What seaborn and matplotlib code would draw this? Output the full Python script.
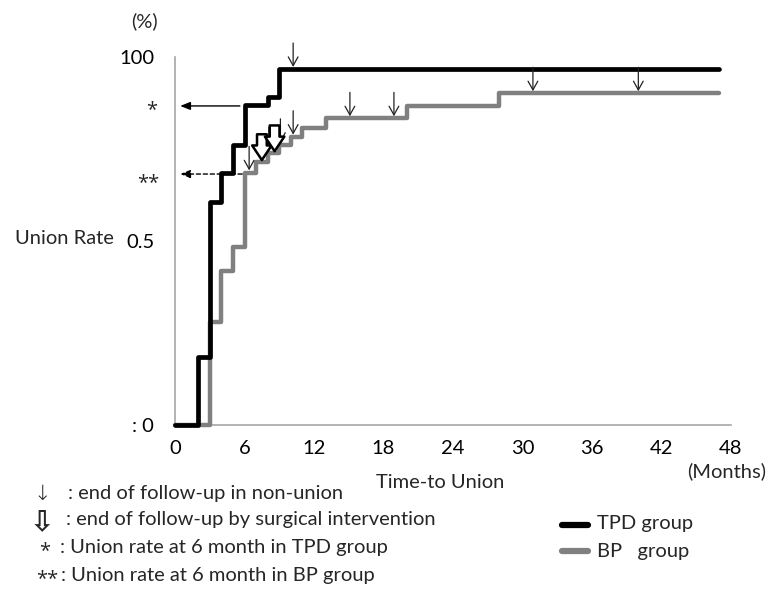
import numpy as np
import pandas as pd
import matplotlib
matplotlib.use('Agg')
import matplotlib.pyplot as plt
from matplotlib.lines import Line2D
import seaborn as sns

# step points (month, union rate)
tpd_month = [0, 2, 3, 4, 5, 6, 8, 9, 47]
tpd_rate = [0, 0.186, 0.607, 0.684, 0.761, 0.870, 0.892, 0.967, 0.967]
bp_month = [0, 3, 4, 5, 6, 7, 8, 9, 10, 11, 13, 20, 28, 47]
bp_rate = [0, 0.281, 0.418, 0.485, 0.686, 0.714, 0.738, 0.761, 0.783, 0.806, 0.833, 0.866, 0.901, 0.901]

# censoring marks
tpd_censor = [10.2]
bp_censor = [6.4, 8.1, 9.1, 10.2, 15.1, 18.9, 30.9, 40.0]
bp_surgery = [7.5, 8.6]

x_ticks = [0, 6, 12, 18, 24, 30, 36, 42, 48]
y_ticks = [0, 0.25, 0.5, 0.75, 1.0]
y_labels = [': 0', '', '0.5', '', '100']

W, H = 769, 591


def fx(x):
    return x / W


def fy(y):
    return 1 - y / H


def step_at(months, rates, t):
    i = np.searchsorted(months, t, side='right') - 1
    return rates[i]


sns.set_style('white')
plt.rcParams['font.family'] = ['Lato', 'DejaVu Sans']

tpd = pd.DataFrame({'month': tpd_month, 'rate': tpd_rate})
bp = pd.DataFrame({'month': bp_month, 'rate': bp_rate})

fig = plt.figure(figsize=(W / 100, H / 100), dpi=100)
ax = fig.add_axes([fx(175), fy(425), 556 / W, 368 / H])

sns.lineplot(data=bp, x='month', y='rate', ax=ax, color='#808080', linewidth=3.2,
             drawstyle='steps-post', clip_on=False, zorder=3)
sns.lineplot(data=tpd, x='month', y='rate', ax=ax, color='black', linewidth=3.4,
             drawstyle='steps-post', clip_on=False, zorder=4)

fs = 14.5
ax.set_xlim(0, 48)
ax.set_ylim(0, 1)
ax.set_xticks(x_ticks)
ax.set_yticks(y_ticks)
ax.set_yticklabels(y_labels)
ax.set_xlabel('')
ax.set_ylabel('')
ax.tick_params(axis='both', direction='out', length=4, width=1, color='#a6a6a6',
               labelsize=fs, labelcolor='black')
ax.tick_params(axis='y', pad=11)
ax.tick_params(axis='x', pad=7)
for s in ['top', 'right']:
    ax.spines[s].set_visible(False)
for s in ['left', 'bottom']:
    ax.spines[s].set_color('#a6a6a6')
    ax.spines[s].set_linewidth(1.2)

thin = dict(arrowstyle='->,head_length=0.45,head_width=0.25', color='#222222', lw=0.9,
            mutation_scale=14, shrinkA=0, shrinkB=0)
for t in tpd_censor:
    v = step_at(tpd_month, tpd_rate, t) + 0.006
    ax.annotate('', xy=(t, v), xytext=(t, v + 0.065), arrowprops=thin, zorder=6)
for t in bp_censor:
    v = step_at(bp_month, bp_rate, t) + 0.006
    ax.annotate('', xy=(t, v), xytext=(t, v + 0.065), arrowprops=thin, zorder=6)

hollow = dict(arrowstyle='simple,head_length=0.75,head_width=1.0,tail_width=0.5',
              fc='white', ec='black', lw=1.8, mutation_scale=14, shrinkA=0, shrinkB=0)
for t in bp_surgery:
    v = step_at(bp_month, bp_rate, t) + 0.006
    ax.annotate('', xy=(t, v), xytext=(t, v + 0.07), arrowprops=hollow, zorder=7)

# 6-month rate pointers
ax.annotate('', xy=(0.45, 0.867), xytext=(5.6, 0.867),
            arrowprops=dict(arrowstyle='-|>,head_length=0.5,head_width=0.2', color='black',
                            lw=1, mutation_scale=12, shrinkA=0, shrinkB=0), zorder=5)
ax.annotate('', xy=(0.45, 0.682), xytext=(5.8, 0.682),
            arrowprops=dict(arrowstyle='-|>,head_length=0.5,head_width=0.2', color='black',
                            lw=1, linestyle=(0, (3, 2)), mutation_scale=12,
                            shrinkA=0, shrinkB=0), zorder=5)

star = ['Open Sans', 'DejaVu Sans']
fig.text(fx(157), fy(110), '*', ha='right', va='center', fontsize=fs, family=star)
fig.text(fx(159), fy(183), '**', ha='right', va='center', fontsize=fs, family=star)
fig.text(fx(158), fy(21), '(%)', ha='right', va='center', fontsize=fs)
fig.text(fx(15), fy(239), 'Union Rate', ha='left', va='center', fontsize=fs)
fig.text(fx(440), fy(482), 'Time-to Union', ha='center', va='center', fontsize=fs)
fig.text(fx(727), fy(471), '(Months)', ha='center', va='center', fontsize=fs)

fig.text(fx(42), fy(494), '↓', ha='center', va='center', fontsize=15, family='DejaVu Sans',
         fontweight='light')
fig.text(fx(68), fy(494), ': end of follow-up in non-union', ha='left', va='center', fontsize=fs)
fig.text(fx(42), fy(522), '⇩', ha='center', va='center', fontsize=21, family='DejaVu Sans',
         fontweight='bold')
fig.text(fx(66), fy(520), ': end of follow-up by surgical intervention', ha='left', va='center',
         fontsize=fs)
fig.text(fx(45), fy(551), '*', ha='center', va='center', fontsize=fs, family=star)
fig.text(fx(60), fy(548), ': Union rate at 6 month in TPD group', ha='left', va='center', fontsize=fs)
fig.text(fx(58), fy(579), '**', ha='right', va='center', fontsize=fs, family=star)
fig.text(fx(61), fy(576), ': Union rate at 6 month in BP group', ha='left', va='center', fontsize=fs)

for yy, col in [(525, 'black'), (551, '#808080')]:
    fig.add_artist(Line2D([fx(562), fx(588)], [fy(yy), fy(yy)], color=col, lw=4.5,
                          transform=fig.transFigure))
fig.text(fx(597), fy(524), 'TPD group', ha='left', va='center', fontsize=fs)
fig.text(fx(597), fy(551), 'BP   group', ha='left', va='center', fontsize=fs)

fig.savefig('out.png', dpi=100)
